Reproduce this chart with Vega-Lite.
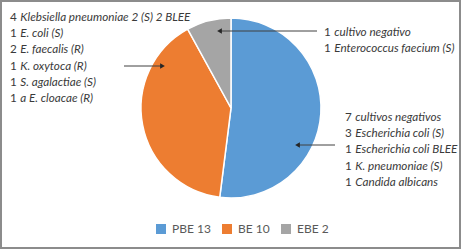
{
  "$schema": "https://vega.github.io/schema/vega-lite/v6.json",
  "width": 459,
  "height": 247,
  "autosize": "none",
  "padding": {"left": 1, "top": 1, "right": 2, "bottom": 1},
  "background": "white",
  "config": {
    "view": {"stroke": "#8c8c8c", "strokeWidth": 2},
    "font": "Lato"
  },
  "datasets": {
    "pie": [
      {"label": "PBE 13", "n": 13, "ord": 1},
      {"label": "BE 10", "n": 10, "ord": 2},
      {"label": "EBE 2", "n": 2, "ord": 3}
    ],
    "notes": [
      {"num": "4", "txt": "Klebsiella pneumoniae 2 (S) 2 BLEE", "x": 10, "y": 17},
      {"num": "1", "txt": "E. coli (S)", "x": 10, "y": 33},
      {"num": "2", "txt": "E. faecalis (R)", "x": 10, "y": 49},
      {"num": "1", "txt": "K. oxytoca (R)", "x": 10, "y": 66},
      {"num": "1", "txt": "S. agalactiae (S)", "x": 10, "y": 82},
      {"num": "1", "txt": "a E. cloacae (R)", "x": 10, "y": 98},
      {"num": "1", "txt": "cultivo negativo", "x": 324, "y": 32},
      {"num": "1", "txt": "Enterococcus faecium (S)", "x": 324, "y": 48},
      {"num": "7", "txt": "cultivos negativos", "x": 345, "y": 117},
      {"num": "3", "txt": "Escherichia coli (S)", "x": 345, "y": 133},
      {"num": "1", "txt": "Escherichia coli BLEE", "x": 345, "y": 149},
      {"num": "1", "txt": "K. pneumoniae (S)", "x": 345, "y": 166},
      {"num": "1", "txt": "Candida albicans", "x": 345, "y": 182}
    ],
    "arrows": [
      {"x": 124, "x2": 162, "y": 66, "head": 162.5, "shape": "triangle-right"},
      {"x": 219, "x2": 317, "y": 31, "head": 219.5, "shape": "triangle-left"},
      {"x": 297, "x2": 335, "y": 145, "head": 297.5, "shape": "triangle-left"}
    ]
  },
  "layer": [
    {
      "data": {"name": "pie"},
      "mark": {"type": "arc", "radius": 90, "stroke": "white", "strokeWidth": 1.5},
      "encoding": {
        "x": {"datum": 231, "type": "quantitative", "scale": {"domain": [1, 460], "nice": false, "zero": false}, "axis": null},
        "y": {"datum": 108, "type": "quantitative", "scale": {"domain": [1, 248], "reverse": true, "nice": false, "zero": false}, "axis": null},
        "theta": {"field": "n", "type": "quantitative"},
        "order": {"field": "ord"},
        "color": {
          "field": "label",
          "type": "nominal",
          "scale": {"domain": ["PBE 13", "BE 10", "EBE 2"], "range": ["#5B9BD5", "#ED7D31", "#A5A5A5"]},
          "legend": {
            "title": null,
            "orient": "none",
            "legendX": 154,
            "legendY": 222,
            "direction": "horizontal",
            "symbolType": "square",
            "symbolSize": 100,
            "symbolStrokeWidth": 0,
            "labelFontSize": 12,
            "labelColor": "#595959",
            "labelOffset": 5,
            "columnPadding": 10,
            "padding": 0
          }
        }
      }
    },
    {
      "data": {"name": "arrows"},
      "mark": {"type": "rule", "stroke": "#404040", "strokeWidth": 1},
      "encoding": {
        "x": {"field": "x", "type": "quantitative", "scale": {"domain": [1, 460], "nice": false, "zero": false}, "axis": null},
        "x2": {"field": "x2"},
        "y": {"field": "y", "type": "quantitative", "scale": {"domain": [1, 248], "reverse": true, "nice": false, "zero": false}, "axis": null}
      }
    },
    {
      "data": {"name": "arrows"},
      "mark": {"type": "point", "filled": true, "size": 30, "color": "#262626", "opacity": 1},
      "encoding": {
        "x": {"field": "head", "type": "quantitative", "scale": {"domain": [1, 460], "nice": false, "zero": false}, "axis": null},
        "y": {"field": "y", "type": "quantitative", "scale": {"domain": [1, 248], "reverse": true, "nice": false, "zero": false}, "axis": null},
        "shape": {"field": "shape", "type": "nominal", "scale": null}
      }
    },
    {
      "data": {"name": "notes"},
      "mark": {"type": "text", "align": "left", "baseline": "middle", "fontSize": 11.7, "color": "#3a3a3a"},
      "encoding": {
        "x": {"field": "x", "type": "quantitative", "scale": {"domain": [1, 460], "nice": false, "zero": false}, "axis": null},
        "y": {"field": "y", "type": "quantitative", "scale": {"domain": [1, 248], "reverse": true, "nice": false, "zero": false}, "axis": null},
        "text": {"field": "num"}
      }
    },
    {
      "data": {"name": "notes"},
      "mark": {"type": "text", "align": "left", "baseline": "middle", "fontSize": 11.7, "fontStyle": "italic", "color": "#3a3a3a", "dx": 10.3},
      "encoding": {
        "x": {"field": "x", "type": "quantitative", "scale": {"domain": [1, 460], "nice": false, "zero": false}, "axis": null},
        "y": {"field": "y", "type": "quantitative", "scale": {"domain": [1, 248], "reverse": true, "nice": false, "zero": false}, "axis": null},
        "text": {"field": "txt"}
      }
    }
  ]
}
